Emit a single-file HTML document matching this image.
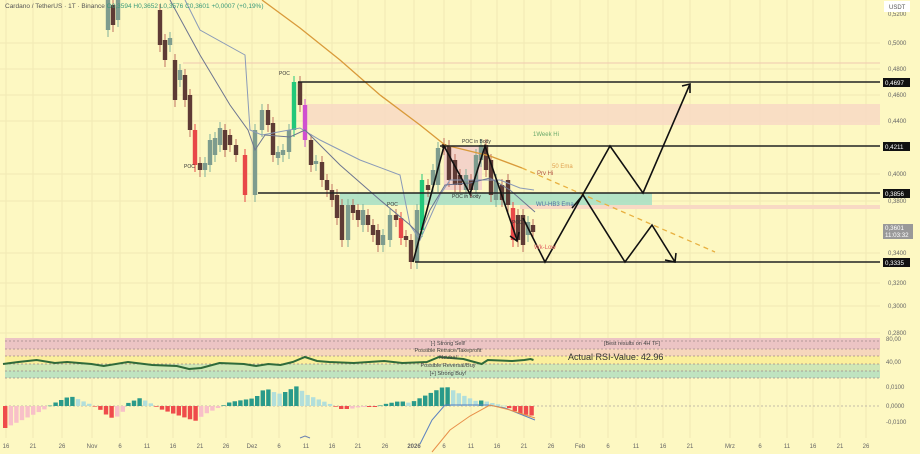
<!DOCTYPE html>
<html><head><meta charset="utf-8"><style>
html,body{margin:0;padding:0;background:#fdf8c2;}
svg{display:block;font-family:"Liberation Sans",sans-serif;}
</style></head><body>
<svg id="s" width="920" height="454" viewBox="0 0 920 454" xmlns="http://www.w3.org/2000/svg">
<rect width="920" height="454" fill="#fdf8c2"/>
<g id="grid" stroke="#f1e9b4" stroke-width="1"></g>
<!-- zones -->
<rect x="305" y="104" width="575" height="21" fill="#f8d9c4" opacity="0.85"/>
<rect x="520" y="205" width="360" height="4" fill="#f8d9c4"/>
<rect x="340" y="193" width="312" height="12" fill="#a6dfc6" opacity="0.85"/>
<rect x="444" y="146" width="38" height="44" fill="#f0c4cc" opacity="0.7"/>
<line x1="183" y1="63" x2="880" y2="63" stroke="#f0c8b0" stroke-width="1"/>
<g id="candles"></g>
<polyline fill="none" stroke="#d99a3a" stroke-width="1.3" points="262,0 300,28 340,60 380,95 420,125 445,145 490,156 522,168"/>
<line x1="522" y1="168" x2="715" y2="252" stroke="#e8b040" stroke-width="1.3" stroke-dasharray="5,4"/>
<polyline fill="none" stroke="#8a9ab8" stroke-width="1" points="185,0 200,30 245,55 250,130 262,135 300,128 320,140 360,160 400,175 410,225 420,240 440,195 450,180 470,180 500,180 520,188 534,190"/>
<polyline fill="none" stroke="#6d7590" stroke-width="1" points="170,0 200,55 230,105 248,130 255,150 265,135 290,137 305,130 320,145 340,165 380,200 410,225 420,235 430,210 445,185 470,183 490,178 510,190 535,212"/>
<!-- horizontal levels -->
<g stroke="#222" stroke-width="1.5">
<line x1="298" y1="82" x2="880" y2="82"/>
<line x1="440" y1="146" x2="880" y2="146"/>
<line x1="258" y1="193" x2="880" y2="193"/>
<line x1="415" y1="262" x2="880" y2="262"/>
</g>
<g fill="none" stroke="#111" stroke-width="1.6">
<polyline points="413,262 444,146 470,194 485,146 517,240"/>
<polyline points="510,236 517,241 519,232"/>
<polyline points="523,218 545,262 610,146 643,193 690,84"/>
<polyline points="682,86 690,84 690,93"/>
<polyline points="572,208 583,195 625,262 652,225 675,262"/>
<polyline points="665,260 675,262 676,253"/>
</g>
<g font-size="5" fill="#333">
<text x="279" y="75">POC</text><text x="184" y="168">POC</text><text x="387" y="206">POC</text><text x="512" y="224">POC</text>
<text x="462" y="143">POC in Body</text><text x="452" y="198">POC in Body</text>
</g>
<g font-size="6">
<text x="533" y="136" fill="#6aa86a">1Week Hi</text>
<text x="552" y="168" fill="#e0a050">50 Ema</text>
<text x="537" y="175" fill="#b05040">Prv Hi</text>
<text x="536" y="206" fill="#5070a0">WU-HB3 Ema</text>
<text x="534" y="249" fill="#e06060">Wk-Low</text>
</g>
<text x="5" y="8" font-size="6.5" fill="#555">Cardano / TetherUS · 1T · Binance  <tspan fill="#3a9a7a">O0,3594  H0,3652  L0,3576  C0,3601  +0,0007 (+0,19%)</tspan></text>
<!-- RSI panel -->
<rect x="5" y="338" width="875" height="11" fill="#ecc4c4"/>
<rect x="5" y="349" width="875" height="7" fill="#f6d6bc"/>
<rect x="5" y="356" width="875" height="8" fill="#fbef9c"/>
<rect x="5" y="364" width="875" height="14" fill="#cfe7b6"/>
<rect x="5" y="371" width="875" height="7" fill="#bfe3c0"/>
<g stroke="#a08888" stroke-dasharray="2,2" stroke-width="0.8">
<line x1="5" y1="341" x2="880" y2="341"/><line x1="5" y1="349" x2="880" y2="349"/><line x1="5" y1="356" x2="880" y2="356"/>
<line x1="5" y1="364" x2="880" y2="364"/><line x1="5" y1="371" x2="880" y2="371"/><line x1="5" y1="378" x2="880" y2="378"/>
</g>
<polyline id="rsi" fill="none" stroke="#2f6a3a" stroke-width="2"/>
<g font-size="5.5" fill="#444" text-anchor="middle">
<text x="448" y="345">[-] Strong Sell!</text>
<text x="448" y="352">Possible Retrace/Takeprofit</text>
<text x="448" y="359">Neutral</text>
<text x="448" y="367">Possible Reversal/Buy</text>
<text x="448" y="375">[+] Strong Buy!</text>
<text x="632" y="345">[Best results on 4H TF]</text>
</g>
<text x="568" y="360" font-size="9" fill="#333">Actual RSI-Value: 42.96</text>
<!-- MACD -->
<line x1="5" y1="406" x2="880" y2="406" stroke="#b0a8a0" stroke-dasharray="2,2" stroke-width="0.8"/>
<g id="macd"></g>
<polyline fill="none" stroke="#5a80c0" stroke-width="1" points="420,444 432,420 445,405 488,405 505,408 535,420"/>
<polyline fill="none" stroke="#e8904a" stroke-width="1" points="432,452 450,430 470,416 490,405 510,410 535,418"/>
<polyline fill="none" stroke="#6a80b0" stroke-width="1" points="300,438 305,436 310,438"/>
<!-- axis -->
<g id="ax" font-size="6" fill="#666"></g>
<rect x="884" y="1" width="26" height="11" fill="#fff"/><text x="889" y="9" font-size="6" fill="#555">USDT</text>
<g font-size="6.2" fill="#fff">
<rect x="883" y="78" width="27" height="9" fill="#111"/><text x="885" y="85">0,4697</text>
<rect x="883" y="142" width="27" height="9" fill="#111"/><text x="885" y="149">0,4211</text>
<rect x="883" y="189" width="27" height="9" fill="#111"/><text x="885" y="196">0,3856</text>
<rect x="883" y="224" width="30" height="15" fill="#999"/><text x="885" y="230">0,3601</text><text x="885" y="237">11:03:32</text>
<rect x="883" y="258" width="27" height="9" fill="#111"/><text x="885" y="265">0,3335</text>
</g>
<g id="dates" font-size="6" fill="#666" text-anchor="middle"></g>
</svg>
<script>
const NS="http://www.w3.org/2000/svg";
function el(p,t,a,txt){const e=document.createElementNS(NS,t);for(const k in a)e.setAttribute(k,a[k]);if(txt!==undefined)e.textContent=txt;p.appendChild(e);return e;}
const g=document.getElementById('grid');
const dx=[6,33,62,92,120,147,173,200,226,252,279,306,332,358,385,414,444,471,497,524,551,580,608,636,663,690,730,760,787,813,840,866];
const dl=["16","21","26","Nov","6","11","16","21","26","Dez","6","11","16","21","26","2026","6","11","16","21","26","Feb","6","11","16","21","Mrz","6","11","16","21","26"];
dx.forEach(x=>el(g,'line',{x1:x,y1:0,x2:x,y2:438}));
const ax=document.getElementById('ax');
[[0.5,43],[0.48,69],[0.46,95],[0.44,121],[0.40,174],[0.38,201],[0.34,253],[0.32,283],[0.30,306],[0.28,333]].forEach(([p,y])=>{el(g,'line',{x1:0,y1:y,x2:880,y2:y});el(ax,'text',{x:888,y:y+2},p.toFixed(4).replace('.',','));});
el(ax,'text',{x:888,y:16},'0,5200');
[["80,00",341],["40,00",364],["0,0100",389],["0,0000",408],["-0,0100",424]].forEach(([t,y])=>el(ax,'text',{x:886,y:y},t));
const dg=document.getElementById('dates');
dx.forEach((x,i)=>el(dg,'text',{x:x,y:448,'font-weight':dl[i]=="2026"?"bold":"normal"},dl[i]));
// candles [x, top, bottom, up?, color?]
const C=[[108,0,30,1],[113,5,25,0],[118,0,20,1],[160,10,45,0],[165,40,60,0],[170,38,45,1],[175,60,100,0],[180,70,80,1],[185,75,100,0],[190,95,130,0],[195,130,165,0,'#e84848'],[200,163,170,0],[205,163,170,1],[210,140,165,1],[215,138,155,1],[220,128,145,1],[225,130,150,0],[230,135,145,0],[236,145,155,0],[245,155,195,0,'#e84848'],[255,130,195,1],[262,110,130,1],[268,110,125,0],[273,123,155,0],[278,152,158,1],[283,150,155,1],[289,130,152,1],[294,82,130,1,'#22c87a'],[300,82,105,0],[305,105,140,0,'#d050d0'],[311,140,165,0],[316,161,164,1],[322,162,180,0],[327,180,190,0],[332,190,200,0],[337,195,218,0],[342,205,240,0],[348,205,240,1],[353,205,213,0],[358,210,220,0],[363,210,225,1],[368,215,225,0],[373,225,235,0],[378,230,245,0],[383,235,245,1],[390,215,240,1],[396,215,220,0],[401,218,238,0,'#e84848'],[406,236,240,0],[411,240,262,0],[417,210,262,1],[422,180,230,1,'#22c87a'],[428,185,190,0],[433,170,185,1],[438,148,185,1],[444,144,148,0],[449,146,180,0],[455,160,185,0],[460,175,185,0],[466,175,190,1],[471,180,190,0],[476,155,190,1],[481,145,160,1],[486,145,170,0],[491,160,195,0],[496,180,200,1],[502,185,200,0],[508,180,205,0],[513,208,240,0,'#e84848'],[518,215,240,0],[523,215,245,0],[528,222,235,1],[533,225,232,0]];
const cg=document.getElementById('candles');
C.forEach(([x,t,b,u,c])=>{const col=c||(u?'#7e9c8e':'#5e3b35');el(cg,'line',{x1:x,y1:t-6,x2:x,y2:b+7,stroke:c||(u?'#80b09a':'#c07060'),'stroke-width':1});el(cg,'rect',{x:x-2.2,y:t,width:4.4,height:Math.max(b-t,1.5),fill:col});});
// RSI
const rp=[[5,364],[30,362],[60,360],[90,363],[110,362],[150,364],[170,366],[210,362],[250,365],[290,366],[310,369],[330,368],[360,363],[400,364],[420,366],[440,364],[460,365],[480,362],[500,357],[520,361],[540,362],[580,363],[630,361],[660,363],[700,362],[720,357],[760,359],[790,364],[800,360],[840,361],[860,360],[870,359],[875,360]];
// scale RSI x (zoom points were in 1.7-scaled units)
document.getElementById('rsi').setAttribute('points',rp.map(([x,y])=>(x/1.64).toFixed(1)+','+y).join(' '));
// MACD histogram
const kp=[[5,-22],[20,-15],[45,-3],[52,2],[70,10],[80,6],[92,1],[98,-2],[110,-12],[120,-10],[128,3],[140,8],[150,3],[160,-3],[180,-10],[195,-15],[205,-8],[220,-1],[230,4],[255,8],[265,18],[278,12],[285,14],[297,20],[305,12],[330,2],[340,-3],[350,-3],[360,-1],[375,-1],[385,2],[400,5],[410,3],[420,8],[445,20],[460,12],[478,4],[482,6],[488,4],[505,0],[520,-8],[535,-10]];
function val(x){for(let i=0;i<kp.length-1;i++){if(x>=kp[i][0]&&x<=kp[i+1][0]){const f=(x-kp[i][0])/(kp[i+1][0]-kp[i][0]);return kp[i][1]+f*(kp[i+1][1]-kp[i][1]);}}return 0;}
const mg=document.getElementById('macd');let prev=null;
for(let x=5;x<=535;x+=5.6){const v=val(x);let col;if(v>=0)col=(prev===null||v>=prev)?'#2a9a8a':'#b2dfdb';else col=(prev===null||v<=prev)?'#ef4b4b':'#f8c0c8';
el(mg,'rect',{x:x-2,y:v>=0?406-v:406,width:4.4,height:Math.max(Math.abs(v),0.6),fill:col});prev=v;}
</script>
</body></html>
